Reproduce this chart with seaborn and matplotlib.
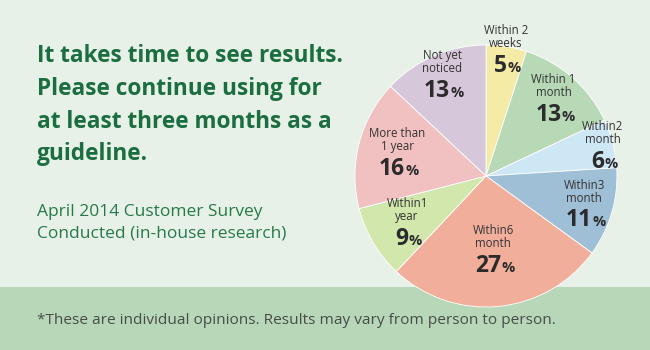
import numpy as np
import matplotlib
matplotlib.use("Agg")
import matplotlib.pyplot as plt
from matplotlib.patches import Rectangle
import seaborn as sns

# Survey answers: how long until results were noticed (clockwise from top)
categories = ["Within 2\nweeks", "Within 1\nmonth", "Within2\nmonth", "Within3\nmonth",
              "Within6\nmonth", "Within1\nyear", "More than\n1 year", "Not yet\nnoticed"]
shares = [5, 13, 6, 11, 27, 9, 16, 13]
slice_colors = ["#f4eba6", "#b8d9b6", "#cde7f5", "#9ebfd6",
                "#f1af9b", "#d1e7ab", "#f1c0c0", "#d7c7da"]

headline = "It takes time to see results.\nPlease continue using for\nat least three months as a\nguideline."
survey_note = "April 2014 Customer Survey\nConducted (in-house research)"
footnote = "*These are individual opinions. Results may vary from person to person."

# radial placement of each label block (fraction of pie radius)
label_radius = [0.97, 0.78, 0.92, 0.78, 0.57, 0.70, 0.70, 0.84]

sns.set_theme(style="white")
plt.rcParams["font.family"] = ["Open Sans", "DejaVu Sans"]

W, H = 650, 350
fig = plt.figure(figsize=(6.5, 3.5), dpi=100)
fig.patch.set_facecolor("#e8f1e8")

# footer band
bg = fig.add_axes([0, 0, 1, 1], zorder=0)
bg.set_xlim(0, W)
bg.set_ylim(H, 0)
bg.axis("off")
bg.add_patch(Rectangle((0, 287), W, H - 287, facecolor="#b8d7b8", edgecolor="none"))

text_green = "#1b6e40"
bg.text(37, 44, headline, fontsize=16.3, fontweight="bold", color=text_green,
        va="top", ha="left", linespacing=1.49)
bg.text(37, 204, survey_note, fontsize=12.5, color="#257a48",
        va="top", ha="left", linespacing=1.5)
bg.text(37, 321, footnote, fontsize=11.1, color="#474c48", va="center", ha="left")

# pie centered at (486, 176) px with radius 131 px
cx, cy, r = 486, 176, 131
ax = fig.add_axes([(cx - r) / W, (H - cy - r) / H, 2 * r / W, 2 * r / H], zorder=2)
palette = sns.color_palette(slice_colors)
wedges, _ = ax.pie(shares, colors=palette, startangle=90, counterclock=False,
                   radius=1, wedgeprops=dict(edgecolor="white", linewidth=0.6))
ax.set_xlim(-1, 1)
ax.set_ylim(-1, 1)
ax.set_aspect("equal")
ax.axis("off")

dark = "#2b2b2b"
for w, name, val, rf in zip(wedges, categories, shares, label_radius):
    mid = np.deg2rad((w.theta1 + w.theta2) / 2)
    x, y = rf * np.cos(mid), rf * np.sin(mid)
    ax.text(x, y + 0.0, name, ha="center", va="bottom", fontsize=8.3,
            color="#333333", linespacing=1.0, clip_on=False)
    num = ax.text(x - 0.04, y - 0.03, f"{val}", ha="center", va="top",
                  fontsize=16.5, fontweight="bold", color=dark, clip_on=False)
    ax.annotate("%", xy=(1, 0), xycoords=num, xytext=(0.2, 2.2),
                textcoords="offset points", ha="left", va="bottom",
                fontsize=10.5, fontweight="bold", color=dark)

fig.savefig("out.png", dpi=100, facecolor=fig.get_facecolor())
